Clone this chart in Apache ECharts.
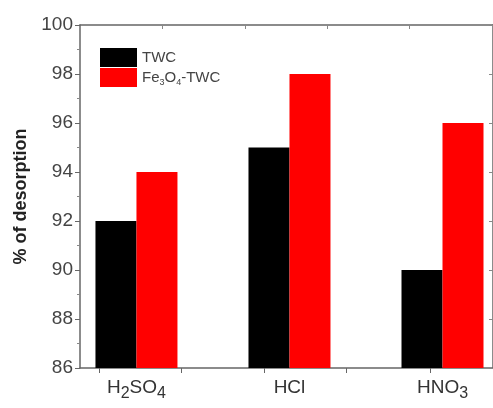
<!DOCTYPE html>
<html>
<head>
<meta charset="utf-8">
<script src="https://cdn.jsdelivr.net/npm/echarts@6/dist/echarts.min.js"></script>
<style>
  html, body { margin: 0; padding: 0; background: #fff; }
  #chart { width: 493px; height: 408px; }
</style>
</head>
<body>
<div id="chart"></div>
<script>
// data
const categories = ['H2SO4', 'HCl', 'HNO3']
const catLabels = ['H{s|2}SO{s|4}', 'HCl', 'HNO{s|3}']
const twc = [92, 95, 90]
const feTwc = [94, 98, 96]
const seriesNames = ['TWC', 'Fe3O4-TWC']
const bottomTicks = [0.754, 1.29, 1.835, 2.372, 2.92]
const topTicks = [1.168, 1.71, 2.245, 2.78]

const positions = categories.map((c, i) => i + 1)
const font = 'Liberation Sans, Arial, sans-serif'

const toPairs = vals => vals.map((v, i) => [positions[i], v])

const chart = echarts.init(document.getElementById('chart'))

const option = {
    animation: false,
    backgroundColor: '#fff',
    textStyle: { fontFamily: font },
    grid: { left: 80, top: 25, right: -4, bottom: 40, containLabel: false },
    legend: {
        orient: 'vertical',
        left: 100,
        top: 48,
        padding: 0,
        itemWidth: 37,
        itemHeight: 19,
        itemGap: 1,
        icon: 'rect',
        data: seriesNames,
        formatter: name => name === 'Fe3O4-TWC' ? 'Fe{s|3}O{s|4}-TWC' : name,
        textStyle: {
            fontSize: 15,
            color: '#444',
            fontFamily: font,
            lineHeight: 19,
            rich: {
                s: { fontSize: 9, lineHeight: 11, verticalAlign: 'bottom', color: '#444' }
            }
        }
    },
    xAxis: [
        {
            type: 'value',
            min: 0.631,
            max: 3.33,
            splitLine: { show: false },
            axisLine: { show: true, lineStyle: { color: '#666', width: 1.5 } },
            axisTick: { show: true, customValues: bottomTicks, length: 5, lineStyle: { color: '#666' } },
            axisLabel: {
                customValues: positions,
                margin: 6,
                fontSize: 19,
                lineHeight: 28,
                color: '#333',
                formatter: v => catLabels[Math.round(v) - 1] || '',
                rich: {
                    s: { fontSize: 16, lineHeight: 16, verticalAlign: 'bottom', color: '#333' }
                }
            }
        },
        {
            type: 'value',
            position: 'top',
            min: 0.631,
            max: 3.33,
            splitLine: { show: false },
            axisLine: { show: true, lineStyle: { color: '#666', width: 1.5 } },
            axisTick: { show: true, inside: true, customValues: topTicks, length: 4, lineStyle: { color: '#888' } },
            axisLabel: { show: false }
        }
    ],
    yAxis: [
        {
            type: 'value',
            min: 86,
            max: 100,
            interval: 2,
            name: '% of desorption',
            nameLocation: 'middle',
            nameGap: 50,
            nameTextStyle: { fontSize: 18, fontWeight: 'bold', color: '#222', fontFamily: font },
            splitLine: { show: false },
            axisLine: { show: true, lineStyle: { color: '#666', width: 1.5 } },
            axisTick: { show: true, length: 5, lineStyle: { color: '#666' } },
            minorTick: { show: true, splitNumber: 2, length: 3, lineStyle: { color: '#888' } },
            axisLabel: { fontSize: 19, color: '#444', margin: 7 }
        },
        {
            type: 'value',
            position: 'right',
            min: 86,
            max: 100,
            interval: 2,
            splitLine: { show: false },
            axisLine: { show: true, lineStyle: { color: '#666', width: 1.5 } },
            axisTick: { show: true, inside: true, length: 4, lineStyle: { color: '#888' } },
            axisLabel: { show: false }
        }
    ],
    series: [
        {
            name: seriesNames[0],
            type: 'bar',
            barWidth: 41,
            barGap: '0%',
            itemStyle: { color: '#000' },
            data: toPairs(twc)
        },
        {
            name: seriesNames[1],
            type: 'bar',
            barWidth: 41,
            barGap: '0%',
            itemStyle: { color: '#ff0000' },
            data: toPairs(feTwc)
        }
    ]
}

chart.setOption(option)
</script>
</body>
</html>
